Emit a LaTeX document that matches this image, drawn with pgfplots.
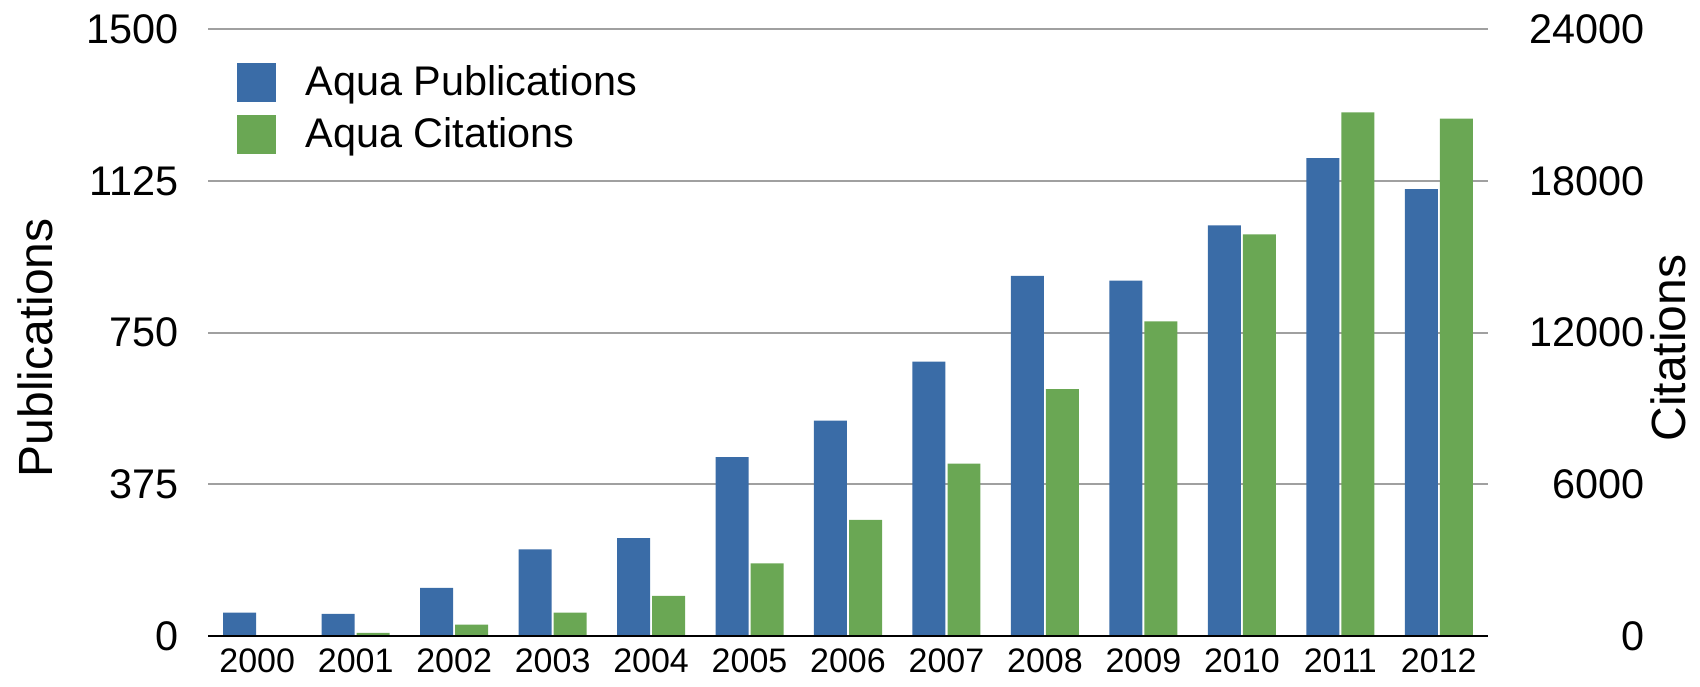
\documentclass[border=0pt]{standalone}
\usepackage{fontspec}
\setmainfont{Liberation Sans}
\usepackage{pgfplots}
\pgfplotsset{compat=1.18}

\definecolor{pubblue}{RGB}{58,108,167}
\definecolor{citgreen}{RGB}{106,167,84}
\definecolor{gridgray}{RGB}{160,160,160}

\pgfplotsset{
  common/.style={
    width=640pt, height=303.5pt, scale only axis,
    at={(0pt,0pt)}, anchor=south west,
    xmin=-0.5, xmax=12.5,
    axis line style={draw=none},
    major tick length=0pt,
    scaled y ticks=false,
    /pgf/number format/assume math mode=true,
    /pgf/number format/1000 sep={},
  },
  % square swatch, with extra room before the text
  sqlegend/.style={legend image code/.code={
    \path[##1] (0pt,-9.75pt) rectangle (19.5pt,9.75pt);
    \path (0pt,0pt) (32pt,0pt);}},
}

\begin{document}
\begin{tikzpicture}
\useasboundingbox (-104pt,-25pt) rectangle (746pt,318pt);

% left axis: publications
\begin{axis}[common,
  ymin=0, ymax=1500, ytick={0,375,750,1125,1500},
  ymajorgrids, grid style={gridgray, line width=1pt},
  xtick={0,1,2,3,4,5,6,7,8,9,10,11,12},
  xticklabels={2000,2001,2002,2003,2004,2005,2006,2007,2008,2009,2010,2011,2012},
  xticklabel style={font=\fontsize{17}{20}\selectfont, yshift=-2.7pt},
  yticklabel style={font=\fontsize{20.7}{24}\selectfont, xshift=-11pt},
  ylabel={Publications},
  ylabel style={at={(axis description cs:-0.1352,0.4745)}, anchor=center,
    font=\fontsize{24}{28}\selectfont},
]
\addplot[ybar, bar width=0.335, bar shift=-0.178, fill=pubblue, draw=none] coordinates {
  (0,58) (1,55) (2,119) (3,214) (4,242) (5,442) (6,532)
  (7,678) (8,890) (9,878) (10,1015) (11,1181) (12,1104)
};
\end{axis}

% right axis: citations
\begin{axis}[common,
  ymin=0, ymax=24000, ytick={0,6000,12000,18000,24000},
  xtick=\empty,
  yticklabel pos=right,
  yticklabel style={anchor=east, xshift=82pt, font=\fontsize{20.7}{24}\selectfont},
  ylabel={Citations},
  ylabel style={at={(axis description cs:1.1406,0.4745)}, anchor=center,
    font=\fontsize{24}{28}\selectfont},
  legend style={at={(axis description cs:0.0227,0.947)}, anchor=north west,
    draw=none, fill=none, inner sep=0pt,
    font=\fontsize{20.7}{24}\selectfont, row sep=5.5pt},
  legend cell align=left,
]
\addlegendimage{sqlegend, fill=pubblue, draw=none}
\addlegendentry{Aqua Publications}
\addplot[ybar, sqlegend, bar width=0.335, bar shift=0.178, fill=citgreen, draw=none] coordinates {
  (0,0) (1,120) (2,450) (3,927) (4,1590) (5,2875) (6,4590)
  (7,6820) (8,9760) (9,12440) (10,15880) (11,20700) (12,20460)
};
\addlegendentry{Aqua Citations}
\draw[black, line width=1.5pt] (axis description cs:0,0) -- (axis description cs:1,0);
\end{axis}
\end{tikzpicture}
\end{document}
